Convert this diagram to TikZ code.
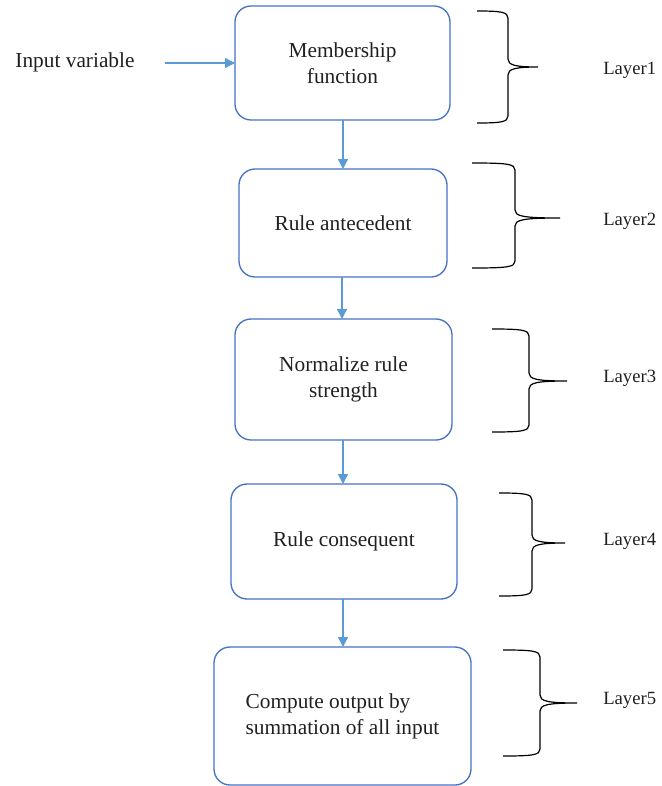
\documentclass[tikz,border=0pt]{standalone}
\usepackage{fontspec}
\setmainfont{Liberation Serif}
\usetikzlibrary{arrows.meta}
\definecolor{boxblue}{HTML}{4472C4}
\definecolor{arrowblue}{HTML}{5B9BD5}
\definecolor{txt}{HTML}{231F20}
\newcommand\layerbrace[6]{%
  \draw[bracestyle] (#1,#2) .. controls ({#3-7},#2) and (#3,{#2+1}) .. (#3,{#2+7})
    -- (#3,{#5-8}) .. controls (#3,{#5-2}) and ({#3+7},#5) .. (#4,#5)
    .. controls ({#3+7},#5) and (#3,{#5+2}) .. (#3,{#5+8})
    -- (#3,{#6-7}) .. controls (#3,{#6-1}) and ({#3-7},#6) .. (#1,#6);}
\tikzset{
  box/.style={draw=boxblue, line width=1pt, rounded corners=12pt, inner sep=0pt, outer sep=0pt,
    align=center, text=txt, font=\fontsize{16}{19.5}\selectfont},
  flow/.style={draw=arrowblue, line width=1pt, -{Triangle[length=7.5pt,width=7.5pt]}},
  bracestyle/.style={draw=black, line width=0.9pt},
  lbl/.style={text=txt, font=\fontsize{16}{19.5}\selectfont, inner sep=0pt, anchor=west},
  layerlbl/.style={lbl, font=\fontsize{14}{17}\selectfont}
}
\begin{document}
\begin{tikzpicture}[x=0.75pt,y=-0.75pt]
\useasboundingbox (0,0) rectangle (661,786);
\node[box, minimum width=161.25pt, minimum height=85.5pt] (b1) at (342.5,63) {Membership\\function};
\node[box, minimum width=156pt, minimum height=81pt] (b2) at (343,223) {Rule antecedent};
\node[box, minimum width=162.75pt, minimum height=90.75pt] (b3) at (343.5,379.5) {Normalize rule\\strength};
\node[box, minimum width=169.5pt, minimum height=86.25pt] (b4) at (344,541.5) {Rule consequent};
\node[box, minimum width=192.75pt, minimum height=103.5pt, align=left] (b5) at (342.5,716) {Compute output by\\summation of all input};
\node[lbl, anchor=center] (inp) at (75,62) {Input variable};
\coordinate (inp0) at (165,63);
\draw[flow] (inp0) -- (b1.west |- inp0);
\draw[flow] (b1.south -| 343,0) -- (b2.north -| 343,0);
\draw[flow] (b2.south -| 342,0) -- (b3.north -| 342,0);
\draw[flow] (b3.south -| 343,0) -- (b4.north -| 343,0);
\draw[flow] (b4.south -| 343,0) -- (b5.north -| 343,0);
\layerbrace{477}{11}{508}{538}{67}{123}
\layerbrace{472}{163}{515}{560}{218}{268}
\layerbrace{492}{329}{529}{567}{381}{432}
\layerbrace{499}{493}{532}{565}{543}{596}
\layerbrace{503}{650}{540}{577}{703}{756}
\node[layerlbl] (l1) at (603,70) {Layer1};
\node[layerlbl] (l2) at (603,221) {Layer2};
\node[layerlbl] (l3) at (603,378) {Layer3};
\node[layerlbl] (l4) at (603,541) {Layer4};
\node[layerlbl] (l5) at (603,700) {Layer5};
\end{tikzpicture}
\end{document}
